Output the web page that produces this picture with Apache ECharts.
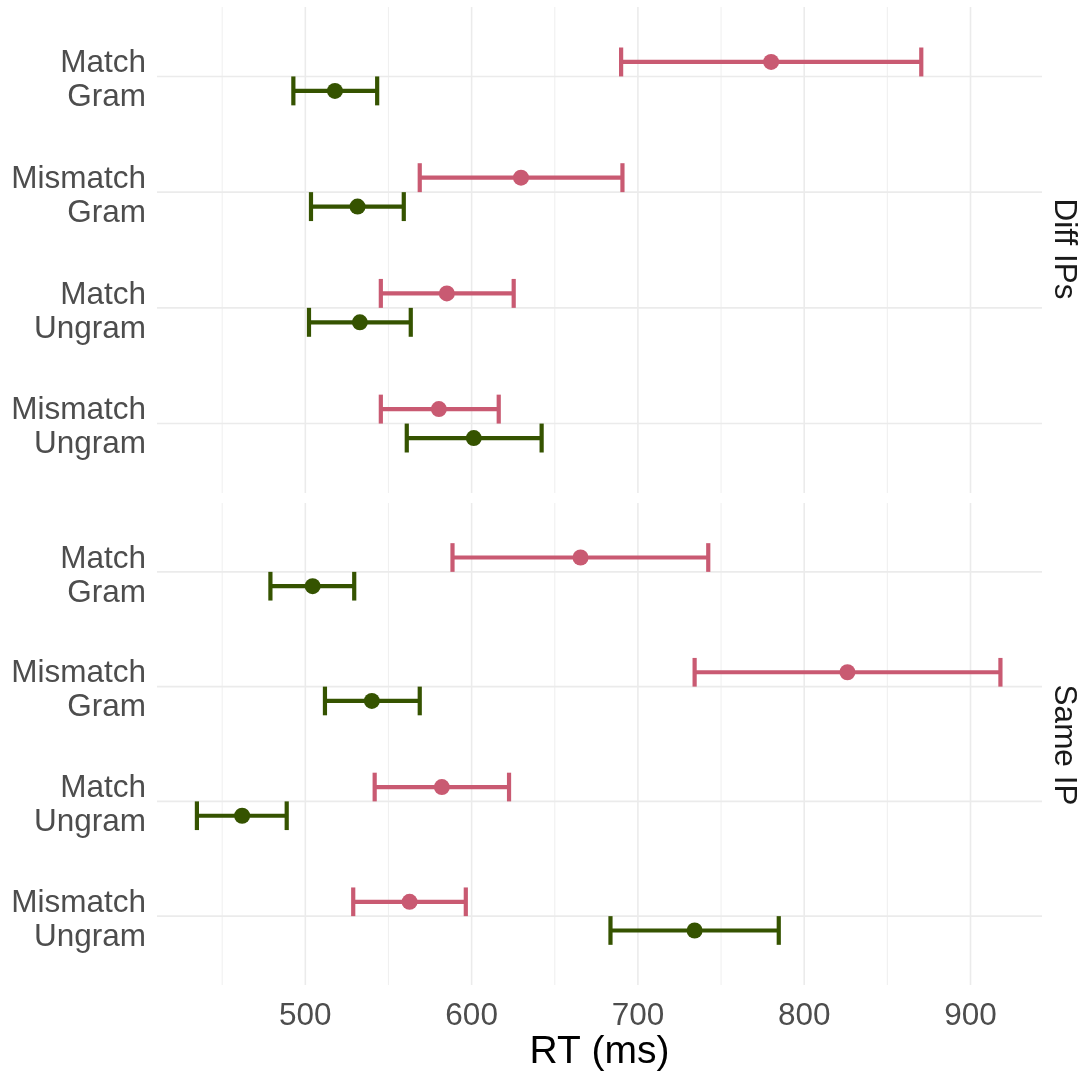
<!DOCTYPE html>
<html><head><meta charset="utf-8">
<script src="https://cdn.jsdelivr.net/npm/echarts@6/dist/echarts.min.js"></script>
<style>html,body{margin:0;padding:0;background:#fff}#c{width:1086px;height:1073px}</style>
</head><body><div id="c"></div>
<script>
// ---- data ----
const categories = ['Match\nGram', 'Mismatch\nGram', 'Match\nUngram', 'Mismatch\nUngram'];
const panelNames = ['Diff IPs', 'Same IP'];
const xTicks = [500, 600, 700, 800, 900];
const xMinorTicks = [450, 550, 650, 750, 850];

// Diff IPs
const pinkMeanDiff  = [780.1, 629.7, 585.1, 580.3];
const pinkLowDiff   = [689.9, 568.8, 545.4, 545.4];
const pinkHighDiff  = [870.4, 690.7, 625.3, 616.3];
const greenMeanDiff = [517.8, 531.4, 532.8, 601.3];
const greenLowDiff  = [492.8, 503.4, 502.2, 561.0];
const greenHighDiff = [543.2, 559.2, 563.4, 642.1];
// Same IP
const pinkMeanSame  = [665.5, 826.0, 582.1, 562.7];
const pinkLowSame   = [588.5, 734.1, 541.7, 528.8];
const pinkHighSame  = [742.3, 918.0, 622.5, 596.5];
const greenMeanSame = [504.4, 540.0, 462.0, 734.1];
const greenLowSame  = [479.0, 511.8, 434.8, 683.5];
const greenHighSame = [529.4, 568.8, 488.8, 784.7];

// ---- styling ----
const X_MIN = 410.8, X_MAX = 943;
const PINK = '#C95A72', GREEN = '#355300';
const FONT = '"Liberation Sans", Arial, Helvetica, sans-serif';
const DODGE = 0.125;
const LABEL_SHIFT = 0.035; // small downward nudge of category labels

const chart = echarts.init(document.getElementById('c'), null, {renderer: 'canvas'});

function gridSeries(g) {
  const data = [];
  xTicks.forEach(v => data.push([v, 1, 0]));
  xMinorTicks.forEach(v => data.push([v, 1, 1]));
  categories.forEach((c, i) => data.push([600, i + 1, 2]));
  return {
    type: 'custom', xAxisIndex: g, yAxisIndex: g, silent: true, z: 1, clip: false,
    data, encode: {x: 0, y: 1},
    renderItem(params, api) {
      const cs = params.coordSys;
      const kind = api.value(2);
      const p = api.coord([api.value(0), api.value(1)]);
      if (kind === 2) {
        return {type: 'line', shape: {x1: cs.x, y1: p[1], x2: cs.x + cs.width, y2: p[1]},
          style: {stroke: '#EBEBEB', lineWidth: 1.6}};
      }
      return {type: 'line', shape: {x1: p[0], y1: cs.y, x2: p[0], y2: cs.y + cs.height},
        style: {stroke: kind === 0 ? '#EBEBEB' : '#F0F0F0', lineWidth: kind === 0 ? 1.6 : 1.1}};
    }
  };
}

function errSeries(g, name, mean, low, high, color, off) {
  const data = mean.map((m, i) => [m, i + 1, low[i], high[i]]);
  return {
    type: 'custom', name, xAxisIndex: g, yAxisIndex: g, z: 3, clip: false,
    data, encode: {x: [0, 2, 3], y: 1},
    renderItem(params, api) {
      const cat = api.value(1) + off;
      const pm = api.coord([api.value(0), cat]);
      const pl = api.coord([api.value(2), cat]);
      const ph = api.coord([api.value(3), cat]);
      const top = api.coord([api.value(2), cat - DODGE])[1];
      const bot = api.coord([api.value(2), cat + DODGE])[1];
      const st = {stroke: color, lineWidth: 4.2, fill: null};
      return {type: 'group', children: [
        {type: 'line', shape: {x1: pl[0], y1: pl[1], x2: ph[0], y2: ph[1]}, style: st},
        {type: 'line', shape: {x1: pl[0], y1: top, x2: pl[0], y2: bot}, style: st},
        {type: 'line', shape: {x1: ph[0], y1: top, x2: ph[0], y2: bot}, style: st},
        {type: 'circle', shape: {cx: pm[0], cy: pm[1], r: 8}, style: {fill: color}}
      ]};
    }
  };
}

const grids = [
  {left: 157, right: 44, top: 7, height: 486},
  {left: 157, right: 44, top: 503, height: 486}
];

const xAxes = [0, 1].map(g => ({
  type: 'value', gridIndex: g, min: X_MIN, max: X_MAX,
  axisLine: {show: false}, axisTick: {show: false}, splitLine: {show: false},
  axisLabel: {show: g === 1, customValues: xTicks, fontSize: 31.5, color: '#4D4D4D', margin: 15, fontFamily: FONT},
  name: g === 1 ? 'RT (ms)' : '', nameLocation: 'middle', nameGap: 48,
  nameTextStyle: {fontSize: 39, color: '#000000', fontFamily: FONT}
}));

const yAxes = [0, 1].map(g => ({
  type: 'value', gridIndex: g, min: 0.4, max: 4.6, inverse: true,
  axisLine: {show: false}, axisTick: {show: false}, splitLine: {show: false},
  axisLabel: {customValues: categories.map((c, i) => i + 1 + LABEL_SHIFT),
    formatter: v => categories[Math.round(v) - 1] || '',
    fontSize: 31.5, lineHeight: 34, color: '#4D4D4D', align: 'right', margin: 11, fontFamily: FONT}
}));

const series = [
  gridSeries(0), gridSeries(1),
  errSeries(0, 'Pink', pinkMeanDiff, pinkLowDiff, pinkHighDiff, PINK, -DODGE),
  errSeries(0, 'Green', greenMeanDiff, greenLowDiff, greenHighDiff, GREEN, DODGE),
  errSeries(1, 'Pink', pinkMeanSame, pinkLowSame, pinkHighSame, PINK, -DODGE),
  errSeries(1, 'Green', greenMeanSame, greenLowSame, greenHighSame, GREEN, DODGE)
];

const graphic = panelNames.map((n, g) => ({
  type: 'text', x: 1064, y: grids[g].top + grids[g].height / 2 - 1, rotation: -Math.PI / 2,
  style: {text: n, fontSize: 31.5, fill: '#1A1A1A', align: 'center', verticalAlign: 'middle', fontFamily: FONT}
}));

chart.setOption({
  animation: false,
  backgroundColor: '#ffffff',
  grid: grids, xAxis: xAxes, yAxis: yAxes, series, graphic
});
</script></body></html>
